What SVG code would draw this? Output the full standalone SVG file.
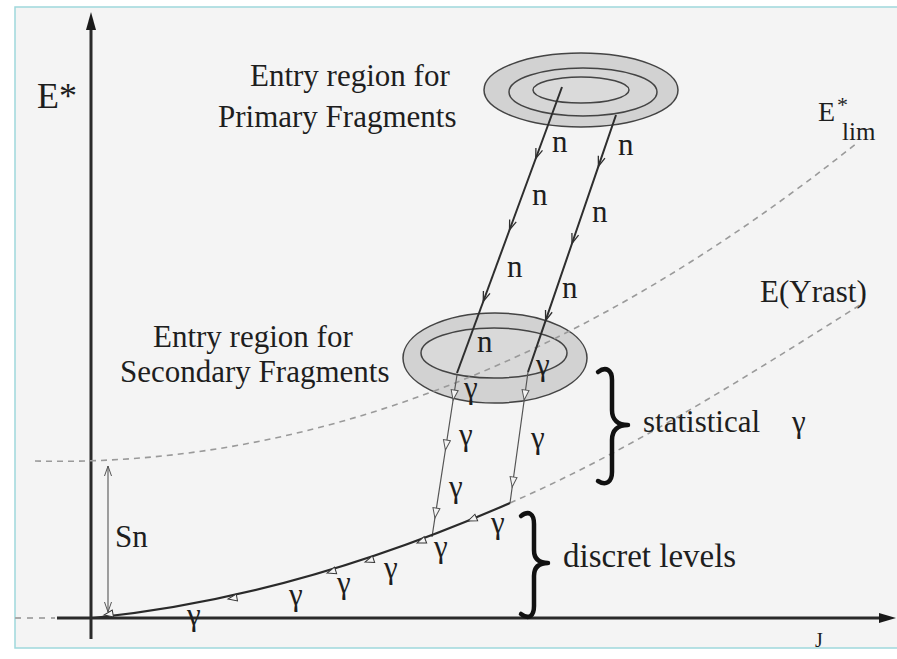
<svg xmlns="http://www.w3.org/2000/svg" width="897" height="659" viewBox="0 0 897 659">
<style>
  text { font-family: "Liberation Serif", "Times New Roman", serif; fill: #1e1e1e; }
  .lbl { font-size: 31px; }
  .sym { font-size: 31px; }
  .dash { fill: none; stroke: #9a9a9a; stroke-width: 1.6; stroke-dasharray: 6 5; }
  .nline { fill: none; stroke: #2e2e2e; stroke-width: 2; marker-mid: url(#openA); }
  .gline { fill: none; stroke: #555; stroke-width: 1.2; marker-mid: url(#openS); }
  .brace { fill: none; stroke: #111; stroke-width: 4.5; stroke-linecap: round; stroke-linejoin: round; }
  .ell { stroke: #444; stroke-width: 1.5; }
</style>
<defs>
  <marker id="openA" markerUnits="userSpaceOnUse" viewBox="-1 -1 13 9" refX="10" refY="3.5" markerWidth="13" markerHeight="9" orient="auto">
    <path d="M0,0 L10,3.5 L0,7" fill="none" stroke="#2e2e2e" stroke-width="1.3"/>
  </marker>
  <marker id="openS" markerUnits="userSpaceOnUse" viewBox="-1 -1 13 9" refX="10" refY="3.5" markerWidth="13" markerHeight="9" orient="auto">
    <path d="M0,0 L10,3.5 L0,7 Z" fill="#f4f4f4" stroke="#555" stroke-width="1"/>
  </marker>
  <marker id="thinEnd" markerUnits="userSpaceOnUse" viewBox="-1 -1 13 9" refX="10" refY="3.5" markerWidth="13" markerHeight="9" orient="auto-start-reverse">
    <path d="M0,0 L10,3.5 L0,7" fill="none" stroke="#555" stroke-width="1"/>
  </marker>
  <path id="ah" d="M0,0 L-9,-3.5 L-9,3.5 Z" fill="#f4f4f4" stroke="#333" stroke-width="1"/>
</defs>

<rect x="0" y="0" width="897" height="659" fill="#ffffff"/>
<rect id="panel" x="15" y="7" width="890" height="641" fill="#f4f4f4" stroke="#9fd8dc" stroke-width="1.5"/>

<!-- axes -->
<g id="axes">
  <line x1="91" y1="639" x2="91" y2="22" stroke="#2a2a2a" stroke-width="3"/>
  <path d="M91,12 L86,30 L96,30 Z" fill="#1a1a1a"/>
  <line x1="15" y1="618" x2="55" y2="618" stroke="#aaa" stroke-width="2" stroke-dasharray="6 6"/>
  <line x1="57" y1="618" x2="884" y2="618" stroke="#2a2a2a" stroke-width="3"/>
  <path d="M896,618 L879,613 L879,623 Z" fill="#1a1a1a"/>
  <text x="37" y="108" style="font-size:36px">E*</text>
  <text x="815" y="647" style="font-size:20px">J</text>
</g>

<!-- entry regions -->
<g id="primary-region">
  <ellipse class="ell" cx="581" cy="90" rx="97" ry="37" fill="#d2d2d2"/>
  <ellipse class="ell" cx="583" cy="92" rx="74" ry="24" fill="#d6d6d6"/>
  <ellipse class="ell" cx="581" cy="90" rx="48" ry="13" fill="#dadada"/>
  <text class="lbl" x="250" y="86">Entry region for</text>
  <text class="lbl" x="218" y="127">Primary Fragments</text>
</g>
<g id="secondary-region">
  <ellipse class="ell" cx="495" cy="358" rx="92" ry="45" fill="#d2d2d2"/>
  <ellipse class="ell" cx="494" cy="353" rx="73" ry="25" fill="#d9d9d9"/>
  <text class="lbl" x="153" y="347">Entry region for</text>
  <text class="lbl" x="120" y="382">Secondary Fragments</text>
</g>

<!-- limit curves -->
<g id="curves">
  <path class="dash" d="M35,461 Q446,471 857,143"/>
  <path class="dash" d="M510,503 C627,452 743,379 860,305"/>
  <text x="818" y="121" style="font-size:28px">E</text>
  <text x="837" y="112" style="font-size:22px">*</text>
  <text x="842" y="140" style="font-size:25px">lim</text>
  <text class="lbl" x="760" y="302">E(Yrast)</text>
</g>

<!-- connectors -->
<g id="connectors">
  <polyline class="nline" points="562,87 535.75,158.5 509.5,230 483.25,301.5 457,373"/>
  <polyline class="nline" points="616,115 598.4,166.4 572,243.5 545.6,320.6 528,372"/>
  <polyline class="gline" points="457,375 453.1,400 445.4,450 434.9,518 432,537"/>
  <polyline class="gline" points="528,372 524.2,400 512.2,487 510,503"/>
  <path d="M93,618 C232,604 371,564 510,503" fill="none" stroke="#2a2a2a" stroke-width="2.2"/>
  <use href="#ah" transform="translate(104,615) rotate(170)"/>
  <use href="#ah" transform="translate(228,599) rotate(170)"/>
  <use href="#ah" transform="translate(327,573) rotate(163)"/>
  <use href="#ah" transform="translate(365,562) rotate(162)"/>
  <use href="#ah" transform="translate(417,543) rotate(159)"/>
  <use href="#ah" transform="translate(468,521) rotate(157)"/>
  <line x1="108" y1="466" x2="108" y2="612" stroke="#555" stroke-width="1.1" marker-start="url(#thinEnd)" marker-end="url(#thinEnd)"/>
</g>

<!-- labels -->
<g id="labels">
  <text class="sym" x="552" y="152">n</text>
  <text class="sym" x="618" y="155">n</text>
  <text class="sym" x="532" y="205">n</text>
  <text class="sym" x="592" y="222">n</text>
  <text class="sym" x="507" y="277">n</text>
  <text class="sym" x="562" y="298">n</text>
  <text class="sym" x="477" y="352">n</text>
  <text class="sym" x="536" y="375">γ</text>
  <text class="sym" x="464" y="398">γ</text>
  <text class="sym" x="459" y="445">γ</text>
  <text class="sym" x="531" y="448">γ</text>
  <text class="sym" x="449" y="497">γ</text>
  <text class="sym" x="491" y="533">γ</text>
  <text class="sym" x="434" y="557">γ</text>
  <text class="sym" x="384" y="578">γ</text>
  <text class="sym" x="337" y="593">γ</text>
  <text class="sym" x="289" y="605">γ</text>
  <text class="sym" x="187" y="625">γ</text>
  <text class="lbl" x="115" y="547">Sn</text>
</g>

<!-- braces -->
<g id="statistical">
  <path class="brace" d="M598,372 C606,366 612,370 612,380 L612,410 C612,420 618,425 628,425 C618,425 612,430 612,440 L612,472 C612,482 606,486 598,481"/>
  <text class="lbl" x="643" y="432">statistical</text>
  <text class="sym" x="792" y="432">γ</text>
</g>
<g id="discrete">
  <path class="brace" d="M521,516 C529,510 534,514 534,524 L534,550 C534,559 539,563 548,563 C539,563 534,567 534,576 L534,606 C534,616 529,620 521,614"/>
  <text class="lbl" x="563" y="567" style="font-size:33px">discret levels</text>
</g>
</svg>
